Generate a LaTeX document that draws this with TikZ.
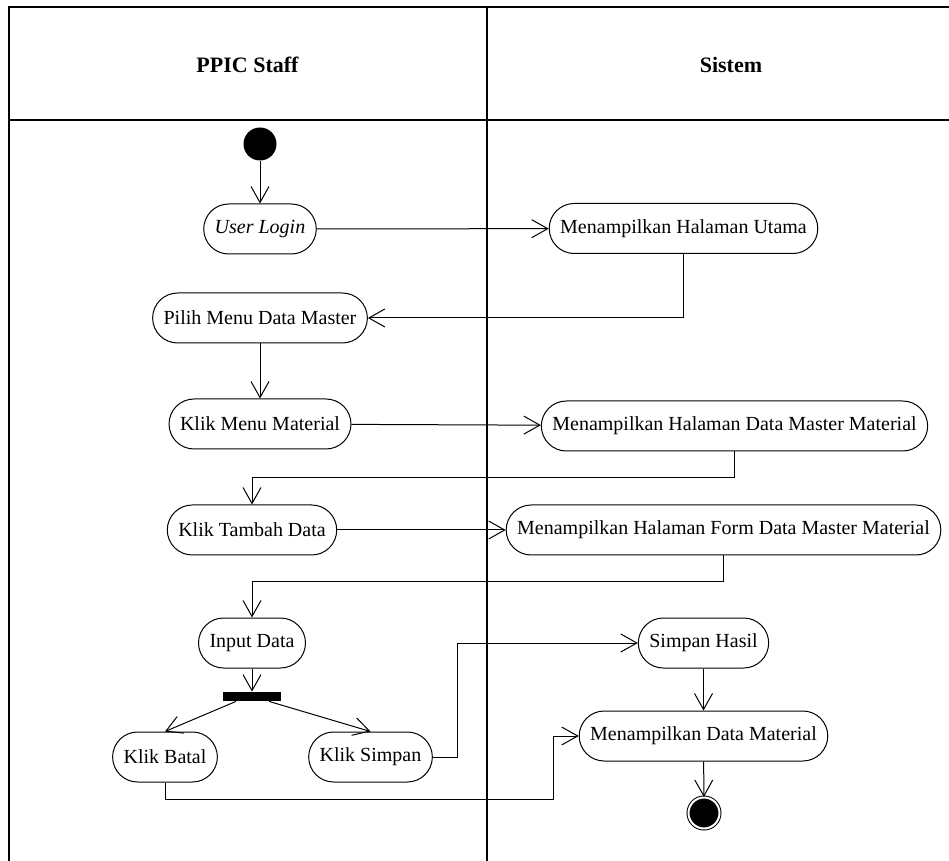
\documentclass[tikz,border=0pt]{standalone}
\usepackage{fontspec}
\setmainfont{Liberation Serif}
\usetikzlibrary{arrows.meta}

\begin{document}
\begin{tikzpicture}[x=0.5pt,y=-0.5pt,
    act/.style={draw,line width=0.5pt,rounded corners=12.5pt,minimum height=25pt,inner xsep=5.5pt,font=\fontsize{10}{12}\selectfont},
    head/.style={font=\bfseries\fontsize{11}{13}\selectfont},
    flow/.style={line width=0.5pt,-{Straight Barb[length=8pt,width=9pt]}}]
  \useasboundingbox (0,0) rectangle (949,861);
  \draw[line width=1pt] (8.5,861) -- (8.5,7.5) -- (949,7.5);
  \draw[line width=1pt] (8.5,120) -- (949,120);
  \draw[line width=1pt] (487,7.5) -- (487,861);
  \node[head] (Staff) at (247.5,65) {PPIC Staff};
  \node[head] (Sistem) at (731,65) {Sistem};
  \node[circle,fill,minimum size=16.5pt,inner sep=0pt] (Start) at (260,144) {};
  \node[act] (Login) at (260,229) {\itshape User Login};
  \node[act] (Utama) at (683.5,228.5) {Menampilkan Halaman Utama};
  \node[act] (Pilih) at (260,318) {Pilih Menu Data Master};
  \node[act] (KlikMenu) at (260,424) {Klik Menu Material};
  \node[act] (Master) at (734.5,426) {Menampilkan Halaman Data Master Material};
  \node[act] (Tambah) at (252,530) {Klik Tambah Data};
  \node[act] (Form) at (723.5,530) {Menampilkan Halaman Form Data Master Material};
  \node[act] (Input) at (252,643) {Input Data};
  \node[fill,minimum width=29pt,minimum height=4.5pt,inner sep=0pt] (Fork) at (252,696.5) {};
  \node[act] (Batal) at (165,757) {Klik Batal};
  \node[act] (Simpan) at (370.5,757) {Klik Simpan};
  \node[act] (Hasil) at (703.5,643) {Simpan Hasil};
  \node[act] (Data) at (703.5,736) {Menampilkan Data Material};
  \node[circle,draw,fill,double=white,double distance=1pt,line width=0.5pt,minimum size=15.5pt,inner sep=0pt] (End) at (704,813) {};
  \draw[flow] (Start) -- (Login);
  \draw[flow] (Login) -- (Utama);
  \draw[flow] (Utama) |- (Pilih);
  \draw[flow] (Pilih) -- (KlikMenu);
  \draw[flow] (KlikMenu) -- (Master);
  \draw[flow] (Master.south) -- ++(0,26) -| (Tambah);
  \draw[flow] (Tambah) -- (Form);
  \draw[flow] (Form.south) -- ++(0,26) -| (Input);
  \draw[flow] (Input) -- (Fork);
  \draw[flow] ([xshift=-8pt]Fork.south) -- (Batal.north);
  \draw[flow] ([xshift=8.5pt]Fork.south) -- (Simpan.north);
  \draw[flow] (Simpan.east) -- ++(25,0) |- (Hasil);
  \draw[flow] (Hasil) -- (Data);
  \draw[flow] (Batal.south) -- ++(0,17) -| ([xshift=-12.5pt]Data.west) -- (Data.west);
  \draw[flow] (Data) -- (End);
\end{tikzpicture}
\end{document}
